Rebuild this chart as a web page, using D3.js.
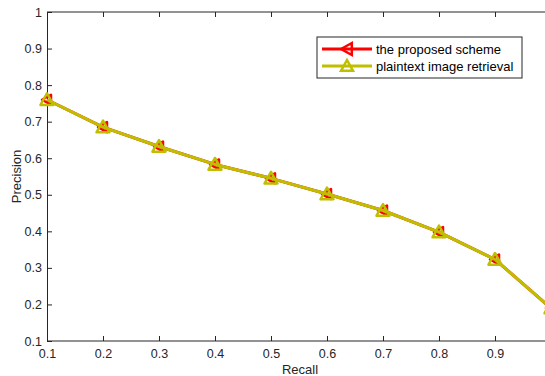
<!DOCTYPE html>
<html>
<head>
<meta charset="utf-8">
<script src="https://cdn.jsdelivr.net/npm/d3@7"></script>
<style>
  body { margin: 0; background: white; }
  svg { display: block; font-family: "Liberation Sans", Arial, sans-serif; }
</style>
</head>
<body>
<div id="chart"></div>
<script>
// data
const recall = [0.1, 0.2, 0.3, 0.4, 0.5, 0.6, 0.7, 0.8, 0.9, 1.0];
const proposed = [0.760, 0.685, 0.632, 0.583, 0.545, 0.502, 0.457, 0.398, 0.323, 0.190];
const plaintext = [0.760, 0.685, 0.632, 0.583, 0.545, 0.502, 0.457, 0.398, 0.323, 0.190];
const xTicks = [0.1, 0.2, 0.3, 0.4, 0.5, 0.6, 0.7, 0.8, 0.9];
const yTicks = [0.1, 0.2, 0.3, 0.4, 0.5, 0.6, 0.7, 0.8, 0.9, 1.0];

const width = 545, height = 376;
const margin = {top: 12, left: 47, bottom: 35};
const xEnd = 551; // the figure is cut off on the right

const x = d3.scaleLinear([0.1, 1.0], [margin.left, xEnd]);
const y = d3.scaleLinear([0.1, 1.0], [height - margin.bottom, margin.top]);

const red = "#ff0000", olive = "#bfbf00", axisColor = "#262626";

const svg = d3.select("#chart").append("svg")
  .attr("width", width)
  .attr("height", height)
  .attr("viewBox", [0, 0, width, height]);

const fmt = d => d === 1 ? "1" : d3.format(".1f")(d);

// axes, MATLAB style with ticks pointing inward
svg.append("g")
  .attr("transform", `translate(0,${y(0.1)})`)
  .call(d3.axisBottom(x).tickValues(xTicks).tickFormat(fmt).tickSizeInner(-5).tickSizeOuter(0).tickPadding(8))
  .call(g => g.select(".domain").attr("d", `M${x(0.1)},0H${xEnd}`))
  .call(g => g.selectAll("text").attr("font-size", 12.5).attr("fill", axisColor))
  .call(g => g.selectAll("line,path").attr("stroke", axisColor));

svg.append("g")
  .attr("transform", `translate(0,${y(1)})`)
  .call(d3.axisTop(x).tickValues(xTicks).tickFormat("").tickSizeInner(-5).tickSizeOuter(0))
  .call(g => g.select(".domain").attr("d", `M${x(0.1)},0H${xEnd}`))
  .call(g => g.selectAll("line,path").attr("stroke", axisColor));

svg.append("g")
  .attr("transform", `translate(${x(0.1)},0)`)
  .call(d3.axisLeft(y).tickValues(yTicks).tickFormat(fmt).tickSizeInner(-5).tickSizeOuter(0).tickPadding(5))
  .call(g => g.selectAll("text").attr("font-size", 12.5).attr("fill", axisColor))
  .call(g => g.selectAll("line,path").attr("stroke", axisColor));

svg.append("text")
  .attr("x", 300)
  .attr("y", height - 2)
  .attr("text-anchor", "middle")
  .attr("font-size", 13)
  .attr("fill", axisColor)
  .text("Recall");

svg.append("text")
  .attr("transform", `translate(21,${(y(0.1) + y(1)) / 2}) rotate(-90)`)
  .attr("text-anchor", "middle")
  .attr("font-size", 13)
  .attr("fill", axisColor)
  .text("Precision");

// markers
const triLeft = s => `M${-s},0L${s * 0.8},${-s}L${s * 0.8},${s}Z`;
const triUp = s => `M0,${-s}L${s},${s * 0.8}L${-s},${s * 0.8}Z`;

const line = d3.line().x(d => x(d[0])).y(d => y(d[1]));

const plot = svg.append("g");

function series(vals, color, shape, size, lw) {
  const pts = recall.map((r, i) => [r, vals[i]]);
  plot.append("path")
    .attr("d", line(pts))
    .attr("fill", "none")
    .attr("stroke", color)
    .attr("stroke-width", lw)
    .attr("stroke-linejoin", "round");
  plot.append("g").selectAll("path")
    .data(pts)
    .join("path")
    .attr("transform", d => `translate(${x(d[0])},${y(d[1])})`)
    .attr("d", shape(size))
    .attr("fill", "none")
    .attr("stroke", color)
    .attr("stroke-width", 2.5)
    .attr("stroke-linejoin", "round");
}

series(proposed, red, triLeft, 5, 3);
series(plaintext, olive, triUp, 6.5, 3);

// legend
const lg = svg.append("g").attr("transform", "translate(317,37)");
lg.append("rect")
  .attr("width", 205).attr("height", 41)
  .attr("fill", "white").attr("stroke", axisColor).attr("stroke-width", 1);

const items = [
  {name: "the proposed scheme", color: red, shape: triLeft},
  {name: "plaintext image retrieval", color: olive, shape: triUp}
];
items.forEach((it, i) => {
  const yy = 12 + i * 17;
  lg.append("line")
    .attr("x1", 5).attr("x2", 55).attr("y1", yy).attr("y2", yy)
    .attr("stroke", it.color).attr("stroke-width", 3);
  lg.append("path")
    .attr("transform", `translate(30,${yy})`)
    .attr("d", it.shape(6))
    .attr("fill", "none").attr("stroke", it.color).attr("stroke-width", 2.5);
  lg.append("text")
    .attr("x", 59).attr("y", yy + 4.5)
    .attr("font-size", 13)
    .attr("fill", "black")
    .text(it.name);
});
</script>
</body>
</html>
